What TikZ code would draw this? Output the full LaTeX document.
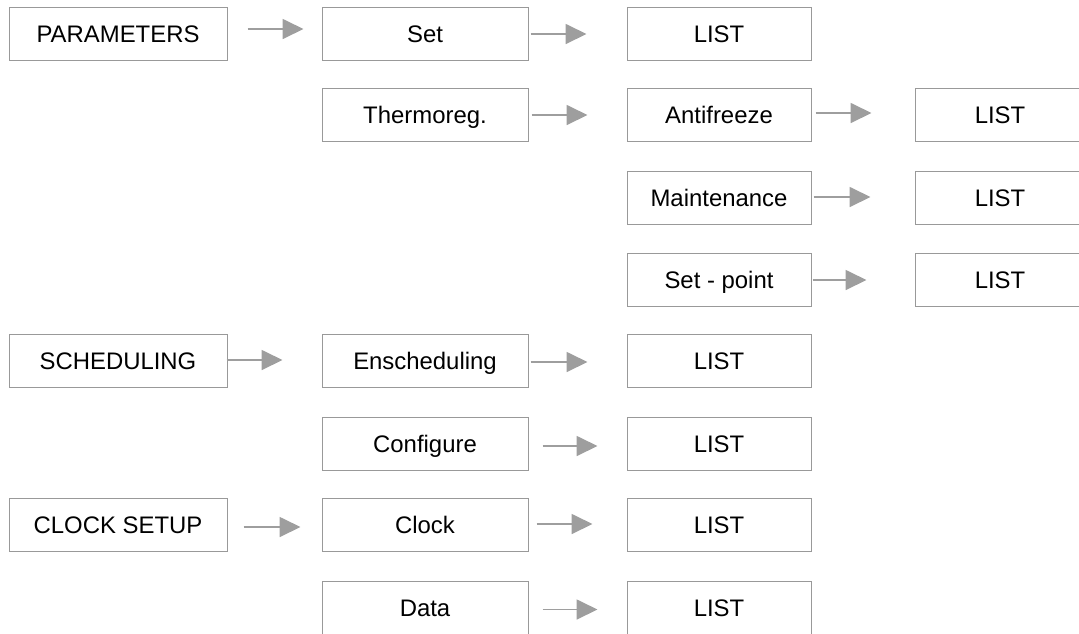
\documentclass[tikz,border=0pt]{standalone}
\usepackage{fontspec}
\setmainfont{Liberation Sans}
\usetikzlibrary{arrows.meta}
\definecolor{boxgray}{HTML}{999999}
\definecolor{arrgray}{HTML}{9E9E9E}
\tikzset{
  box/.style={draw=boxgray, line width=1pt, fill=white, inner sep=0pt,
    minimum height=53pt, text height=17pt, text depth=0pt,
    font=\fontsize{23.9}{28}\selectfont},
  colA/.style={box, minimum width=218pt},
  colB/.style={box, minimum width=206pt},
  colC/.style={box, minimum width=184pt},
  colD/.style={box, minimum width=170pt},
  conn/.style={draw=arrgray, line width=1.8pt,
    -{Triangle[length=21pt,width=20pt]}}
}
\begin{document}
\begin{tikzpicture}[x=1pt,y=-1pt]
\useasboundingbox (0,0) rectangle (1079,633);
\clip (0,0) rectangle (1079,633);
% column centres: A 118, B 425, C 719, D 1000
\node[colA] (par) at (118,33.5) {PARAMETERS};
\node[colB] (set) at (425,33.5) {Set};
\node[colC] (l1) at (719,33.5) {LIST};
\node[colB] (thr) at (425,115) {Thermoreg.};
\node[colC] (anti) at (719,115) {Antifreeze};
\node[colD] (l2) at (1000,115) {LIST};
\node[colC] (mnt) at (719,197.5) {Maintenance};
\node[colD] (l3) at (1000,197.5) {LIST};
\node[colC] (spt) at (719,280) {Set - point};
\node[colD] (l4) at (1000,280) {LIST};
\node[colA] (sch) at (118,361) {SCHEDULING};
\node[colB] (ens) at (425,361) {Enscheduling};
\node[colC] (l5) at (719,361) {LIST};
\node[colB] (cfg) at (425,443.5) {Configure};
\node[colC] (l6) at (719,443.5) {LIST};
\node[colA] (clk) at (118,525) {CLOCK SETUP};
\node[colB] (clock) at (425,525) {Clock};
\node[colC] (l7) at (719,525) {LIST};
\node[colB] (data) at (425,607.5) {Data};
\node[colC] (l8) at (719,607.5) {LIST};

\draw[conn] ([xshift=20pt,yshift=4.5pt]par.east) -- ([xshift=-18pt,yshift=4.5pt]set.west);
\draw[conn] ([xshift=2pt,yshift=-0.5pt]set.east) -- ([xshift=-40pt,yshift=-0.5pt]l1.west);
\draw[conn] ([xshift=3pt]thr.east) -- ([xshift=-39pt]anti.west);
\draw[conn] ([xshift=4pt,yshift=2pt]anti.east) -- ([xshift=-43pt,yshift=2pt]l2.west);
\draw[conn] ([xshift=2pt,yshift=0.5pt]mnt.east) -- ([xshift=-44pt,yshift=0.5pt]l3.west);
\draw[conn] ([xshift=1pt]spt.east) -- ([xshift=-48pt]l4.west);
\draw[conn] ([xshift=-1pt,yshift=1pt]sch.east) -- ([xshift=-39pt,yshift=1pt]ens.west);
\draw[conn] ([xshift=2pt,yshift=-1pt]ens.east) -- ([xshift=-39pt,yshift=-1pt]l5.west);
\draw[conn] ([xshift=14pt,yshift=-2.5pt]cfg.east) -- ([xshift=-29pt,yshift=-2.5pt]l6.west);
\draw[conn] ([xshift=16pt,yshift=-2pt]clk.east) -- ([xshift=-21pt,yshift=-2pt]clock.west);
\draw[conn] ([xshift=8pt,yshift=1pt]clock.east) -- ([xshift=-34pt,yshift=1pt]l7.west);
\draw[conn] ([xshift=14pt,yshift=-2pt]data.east) -- ([xshift=-29pt,yshift=-2pt]l8.west);
\end{tikzpicture}
\end{document}
